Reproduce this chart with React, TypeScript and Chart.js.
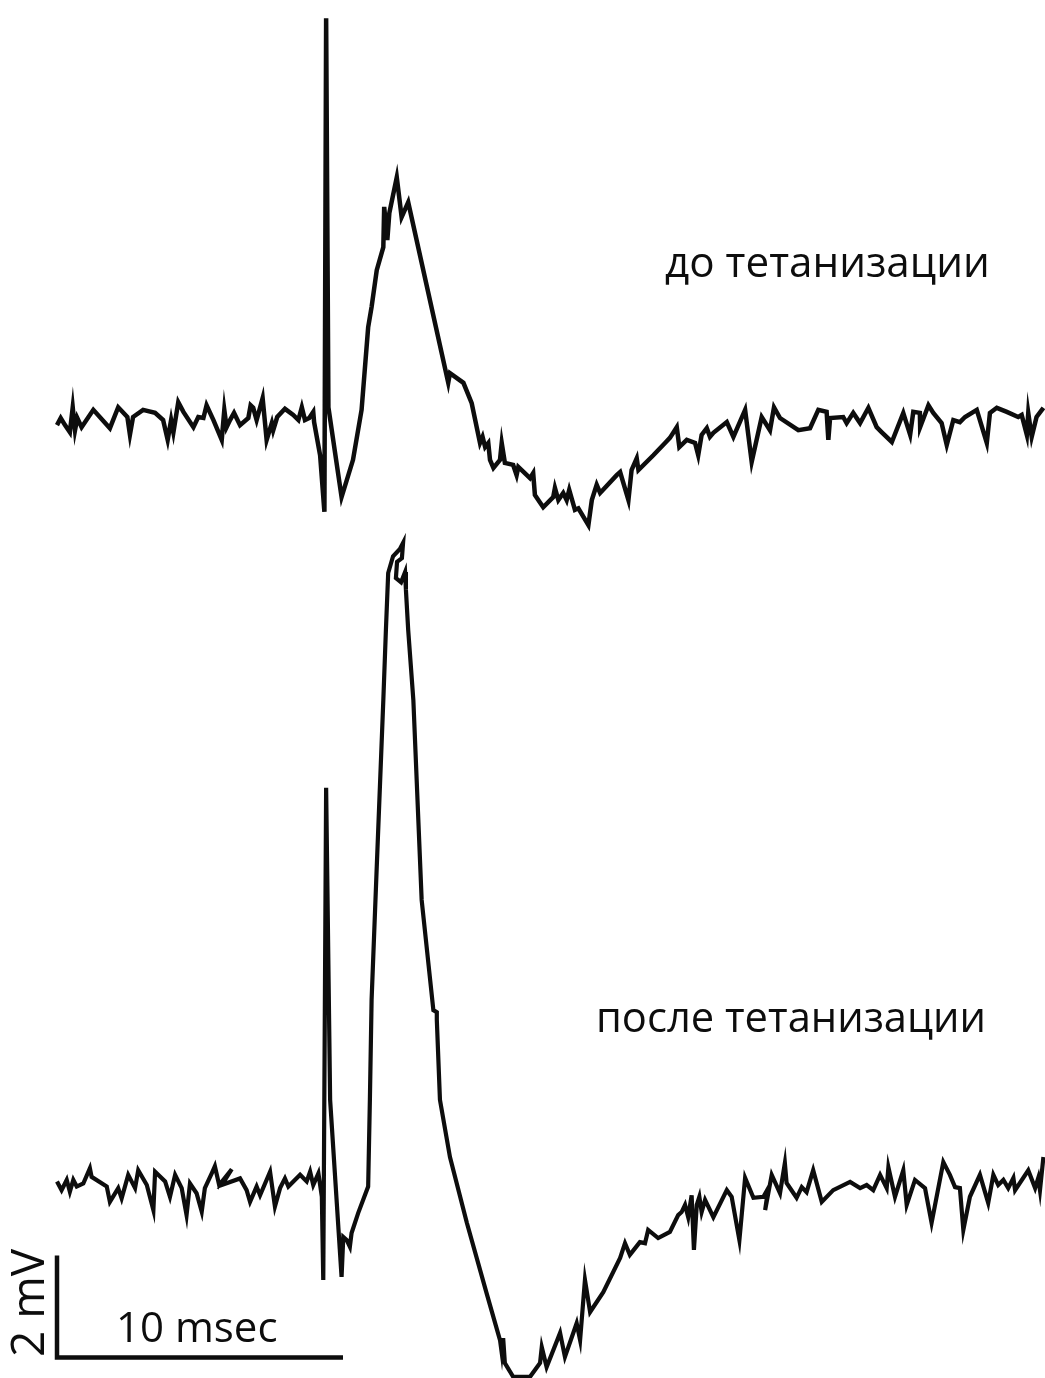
import React, { useEffect, useRef } from "react";
import { Chart, registerables } from "chart.js";

Chart.register(...registerables);

// Recording before tetanization (time in ms, potential in mV relative to baseline)
const TOP_TIME_MS = [0.00,0.13,0.28,0.45,0.55,0.63,0.71,0.86,1.27,1.85,
2.14,2.46,2.55,2.66,3.01,3.43,3.71,3.87,3.99,4.07,
4.24,4.42,4.77,4.94,5.12,5.23,5.47,5.76,5.85,5.93,
6.05,6.19,6.40,6.69,6.77,6.86,6.98,7.19,7.33,7.51,
7.56,7.70,7.97,8.26,8.44,8.56,8.67,8.82,8.96,8.99,
9.20,9.35,9.41,9.49,9.95,10.35,10.65,10.88,11.00,11.18,
11.41,11.44,11.55,11.62,11.88,12.05,12.28,13.68,13.74,14.21,
14.50,14.79,14.88,14.97,15.08,15.14,15.26,15.49,15.55,15.66,
15.95,16.07,16.13,16.54,16.65,16.71,17.00,17.35,17.41,17.53,
17.70,17.82,17.91,18.11,18.23,18.58,18.70,18.87,18.99,19.57,
19.69,19.98,20.09,20.27,20.33,20.85,21.26,21.43,21.67,21.76,
22.02,22.31,22.42,22.54,22.72,22.83,22.95,23.42,23.65,24.06,
24.29,24.64,24.93,25.07,25.28,25.92,26.33,26.62,26.91,26.97,
27.03,27.49,27.61,27.84,28.08,28.37,28.66,28.84,29.19,29.59,
29.83,29.94,30.17,30.18,30.47,30.64,30.93,31.11,31.34,31.57,
31.75,32.16,32.51,32.62,32.86,33.21,33.61,33.73,33.91,33.96,
34.08,34.25,34.49];
const TOP_MV = [-0.10,0.04,-0.10,-0.24,0.25,-0.20,0.04,-0.14,0.20,-0.16,
0.25,0.06,-0.29,0.06,0.20,0.14,0.00,-0.39,0.00,-0.24,
0.35,0.16,-0.14,0.06,0.04,0.29,0.00,-0.39,0.20,-0.14,
0.00,0.14,-0.10,0.04,0.29,0.24,0.00,0.43,-0.39,-0.06,
-0.20,0.06,0.22,0.10,0.00,0.25,0.00,0.04,0.16,-0.04,
-0.69,-1.80,7.88,0.25,-1.51,-0.78,0.20,1.82,2.22,2.94,
3.39,4.18,3.53,4.06,4.76,3.98,4.27,0.73,0.92,0.73,
0.33,-0.45,-0.33,-0.53,-0.45,-0.78,-0.94,-0.78,-0.45,-0.84,
-0.88,-1.08,-0.92,-1.14,-1.04,-1.47,-1.71,-1.51,-1.33,-1.57,
-1.43,-1.57,-1.37,-1.76,-1.73,-2.06,-1.57,-1.27,-1.43,-1.08,
-1.02,-1.57,-0.98,-0.75,-0.98,-0.69,-0.45,-0.35,-0.14,-0.53,
-0.39,-0.45,-0.69,-0.29,-0.16,-0.33,-0.25,-0.04,-0.33,0.20,
-0.82,0.06,-0.20,0.25,0.04,-0.20,-0.16,0.20,0.16,-0.39,
0.04,0.06,-0.06,0.14,-0.06,0.24,-0.14,-0.24,-0.43,0.14,
-0.29,0.16,0.14,-0.14,0.29,0.14,-0.06,-0.49,0.00,-0.04,
0.06,0.20,-0.45,0.14,0.24,0.16,0.06,0.10,-0.29,0.14,
-0.33,0.06,0.24];

// Recording after tetanization
const BOTTOM_TIME_MS = [0.00,0.16,0.34,0.45,0.57,0.69,0.92,1.15,1.21,1.74,
1.85,2.14,2.26,2.49,2.73,2.84,3.14,3.37,3.43,3.78,
3.95,4.13,4.36,4.53,4.65,4.88,5.06,5.17,5.41,5.52,
5.67,6.11,5.76,6.40,6.63,6.75,6.98,7.10,7.45,7.62,
7.80,7.97,8.09,8.50,8.73,8.85,8.96,9.14,9.26,9.31,
9.41,9.55,9.95,10.01,10.13,10.24,10.30,10.53,10.88,10.94,
11.00,11.18,11.41,11.50,11.58,11.75,11.99,12.10,12.06,11.89,
11.85,12.03,12.17,12.20,12.28,12.46,12.75,13.16,13.28,13.28,
13.39,13.74,14.33,15.02,15.49,15.55,15.60,15.66,15.95,16.54,
16.89,16.95,17.12,17.59,17.76,18.17,18.29,18.46,18.64,19.10,
19.69,19.86,20.03,20.38,20.56,20.67,21.02,21.43,21.72,21.84,
21.96,22.07,22.19,22.27,22.37,22.46,22.54,22.66,22.95,23.42,
23.59,23.86,24.06,24.35,24.70,24.87,24.76,24.99,25.28,25.45,
25.51,25.86,26.04,26.21,26.44,26.74,27.14,27.73,28.08,28.31,
28.54,28.78,29.01,29.07,29.30,29.59,29.71,30.00,30.35,30.58,
30.99,31.22,31.40,31.57,31.69,31.92,32.27,32.56,32.74,32.91,
33.09,33.26,33.44,33.50,33.96,34.20,34.31,34.37,34.49];
const BOTTOM_MV = [0.03,-0.14,0.06,-0.17,0.06,-0.07,-0.01,0.29,0.12,-0.07,
-0.37,-0.10,-0.30,0.16,-0.10,0.25,-0.04,-0.53,0.22,0.03,
-0.27,0.16,-0.10,-0.63,-0.01,-0.20,-0.56,-0.10,0.19,0.33,
-0.04,0.27,-0.04,0.09,-0.14,-0.37,-0.07,-0.24,0.22,-0.46,
-0.10,0.09,-0.07,0.16,0.03,0.22,-0.04,0.19,-0.27,-1.90,
7.75,1.63,-1.84,-1.06,-1.12,-1.25,-0.98,-0.59,-0.07,1.63,
3.59,6.20,9.47,10.84,11.96,12.29,12.43,12.55,12.25,12.18,
11.86,11.78,11.98,11.63,10.84,9.47,5.55,3.39,3.35,3.20,
1.63,0.51,-0.78,-2.16,-3.08,-3.33,-3.04,-3.53,-3.80,-3.80,
-3.53,-3.22,-3.61,-2.94,-3.41,-2.75,-3.08,-1.90,-2.53,-2.14,
-1.47,-1.18,-1.41,-1.16,-1.18,-0.92,-1.08,-0.96,-0.63,-0.57,
-0.43,-0.67,-0.24,-1.31,-0.43,-0.27,-0.57,-0.33,-0.67,-0.14,
-0.27,-1.12,0.10,-0.29,-0.27,-0.10,-0.53,0.16,-0.20,0.39,
0.00,-0.29,-0.08,-0.18,0.25,-0.37,-0.14,0.02,-0.10,-0.04,
-0.14,0.16,-0.10,0.31,-0.27,0.25,-0.43,0.06,-0.10,-0.78,
0.41,0.16,-0.08,-0.10,-0.92,-0.27,0.16,-0.39,0.16,-0.04,
0.06,-0.10,0.10,-0.14,0.25,-0.10,0.10,-0.14,0.51];

// Vertical offset of the upper trace (mV) so both sweeps share one plot
const TOP_OFFSET_MV = 14.96;

// Scale bar
const SCALE_TIME_MS = 10;
const SCALE_MV = 2;
const SCALE_ORIGIN = { t: 0, mv: -3.42 };

const LABELS = {
  before: "до тетанизации",
  after: "после тетанизации",
  time: "10 msec",
  volt: "2 mV",
};

const W = 1045;
const H = 1378;
const PX_PER_MS = 28.6;
const PX_PER_MV = 51;
const X0_PX = 57;
const BASE_PX = 1183;

const FONT = '"Open Sans", "Noto Sans", sans-serif';
const INK = "#0d0d0d";

function Label({ text, left, baseline, size }: { text: string; left: number; baseline: number; size: number }) {
  return (
    <div
      style={{
        position: "absolute",
        left,
        top: baseline - 0.888 * size,
        fontFamily: FONT,
        fontSize: size,
        lineHeight: 1,
        whiteSpace: "nowrap",
        color: INK,
      }}
    >
      {text}
    </div>
  );
}

export default function App() {
  const ref = useRef<HTMLCanvasElement | null>(null);

  useEffect(() => {
    if (!ref.current) return;
    const top = TOP_TIME_MS.map((t, i) => ({ x: t, y: TOP_MV[i] + TOP_OFFSET_MV }));
    const bottom = BOTTOM_TIME_MS.map((t, i) => ({ x: t, y: BOTTOM_MV[i] }));
    const bar = [
      { x: SCALE_ORIGIN.t, y: SCALE_ORIGIN.mv + SCALE_MV },
      { x: SCALE_ORIGIN.t, y: SCALE_ORIGIN.mv },
      { x: SCALE_ORIGIN.t + SCALE_TIME_MS, y: SCALE_ORIGIN.mv },
    ];
    const common = {
      borderColor: INK,
      backgroundColor: INK,
      pointRadius: 0,
      pointHoverRadius: 0,
      tension: 0,
      fill: false,
      clip: false as any,
      borderJoinStyle: "miter" as const,
      borderCapStyle: "butt" as const,
    };
    const chart = new Chart(ref.current, {
      type: "line",
      data: {
        datasets: [
          { ...common, label: "до", data: top, borderWidth: 4.5 },
          { ...common, label: "после", data: bottom, borderWidth: 4.2 },
          { ...common, label: "scale", data: bar, borderWidth: 4.5 },
        ],
      },
      options: {
        animation: false,
        responsive: false,
        maintainAspectRatio: false,
        devicePixelRatio: 1,
        layout: { padding: 0 },
        events: [],
        plugins: { legend: { display: false }, tooltip: { enabled: false }, title: { display: false } },
        scales: {
          x: {
            type: "linear",
            display: false,
            min: -X0_PX / PX_PER_MS,
            max: (W - X0_PX) / PX_PER_MS,
          },
          y: {
            type: "linear",
            display: false,
            min: -(H - BASE_PX) / PX_PER_MV,
            max: BASE_PX / PX_PER_MV,
          },
        },
      },
    });
    return () => chart.destroy();
  }, []);

  const voltSize = 46;

  return (
    <div style={{ position: "absolute", left: 0, top: 0, width: W, height: H, background: "#ffffff", overflow: "hidden" }}>
      <canvas ref={ref} width={W} height={H} style={{ display: "block", width: W, height: H }} />
      <Label text={LABELS.before} left={665} baseline={277} size={42.2} />
      <Label text={LABELS.after} left={596} baseline={1032} size={41.7} />
      <Label text={LABELS.time} left={116} baseline={1342} size={42} />
      <div
        style={{
          position: "absolute",
          left: 44 - 0.888 * voltSize,
          top: 1357,
          transformOrigin: "left top",
          transform: "rotate(-90deg)",
          fontFamily: FONT,
          fontSize: voltSize,
          lineHeight: 1,
          whiteSpace: "nowrap",
          color: INK,
        }}
      >
        {LABELS.volt}
      </div>
    </div>
  );
}
